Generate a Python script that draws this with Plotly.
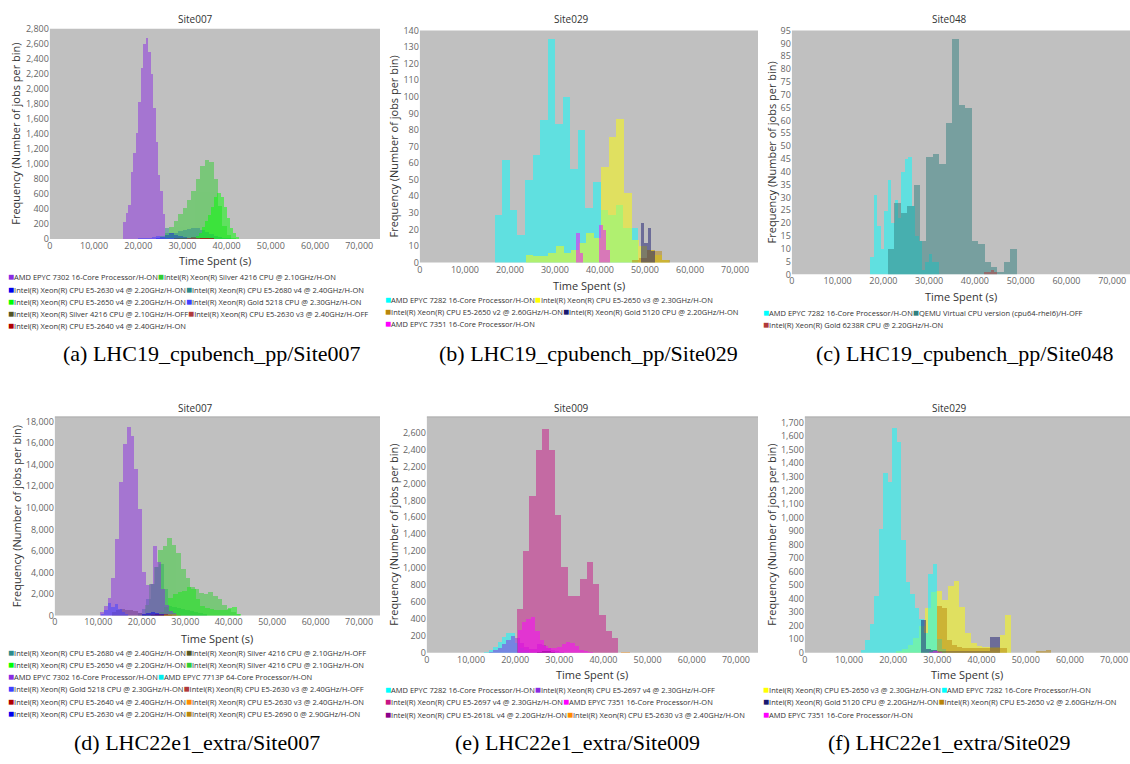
import plotly.graph_objects as go

W, H = 1130, 764

# ---------------- DATA ----------------
N_AMD7302 = "AMD EPYC 7302 16-Core Processor/H-ON"
N_AMD7282 = "AMD EPYC 7282 16-Core Processor/H-ON"
N_AMD7351 = "AMD EPYC 7351 16-Core Processor/H-ON"
N_AMD7713P = "AMD EPYC 7713P 64-Core Processor/H-ON"
N_S4216_ON = "Intel(R) Xeon(R) Silver 4216 CPU @ 2.10GHz/H-ON"
N_S4216_OFF = "Intel(R) Xeon(R) Silver 4216 CPU @ 2.10GHz/H-OFF"
N_2630V4 = "Intel(R) Xeon(R) CPU E5-2630 v4 @ 2.20GHz/H-ON"
N_2680V4 = "Intel(R) Xeon(R) CPU E5-2680 v4 @ 2.40GHz/H-ON"
N_2650V4 = "Intel(R) Xeon(R) CPU E5-2650 v4 @ 2.20GHz/H-ON"
N_G5218 = "Intel(R) Xeon(R) Gold 5218 CPU @ 2.30GHz/H-ON"
N_2630V3_OFF = "Intel(R) Xeon(R) CPU E5-2630 v3 @ 2.40GHz/H-OFF"
N_2630V3_ON = "Intel(R) Xeon(R) CPU E5-2630 v3 @ 2.40GHz/H-ON"
N_2640V4 = "Intel(R) Xeon(R) CPU E5-2640 v4 @ 2.40GHz/H-ON"
N_2650V3 = "Intel(R) Xeon(R) CPU E5-2650 v3 @ 2.30GHz/H-ON"
N_2650V2 = "Intel(R) Xeon(R) CPU E5-2650 v2 @ 2.60GHz/H-ON"
N_G5120 = "Intel(R) Xeon(R) Gold 5120 CPU @ 2.20GHz/H-ON"
N_QEMU = "QEMU Virtual CPU version (cpu64-rhel6)/H-OFF"
N_G6238R = "Intel(R) Xeon(R) Gold 6238R CPU @ 2.20GHz/H-ON"
N_2690 = "Intel(R) Xeon(R) CPU E5-2690 0 @ 2.90GHz/H-ON"
N_2697V4_OFF = "Intel(R) Xeon(R) CPU E5-2697 v4 @ 2.30GHz/H-OFF"
N_2697V4_ON = "Intel(R) Xeon(R) CPU E5-2697 v4 @ 2.30GHz/H-ON"
N_2618LV4 = "Intel(R) Xeon(R) CPU E5-2618L v4 @ 2.20GHz/H-ON"

# Panel (a): LHC19_cpubench_pp / Site007  (bin start, bin width, counts)
a_series = [N_AMD7302, N_S4216_ON, N_2630V4, N_2680V4, N_2650V4, N_G5218, N_S4216_OFF, N_2630V3_OFF, N_2640V4]
a_start = [16600, 26000, 24000, 25000, 33000, 20000, 28000, 30000, 32000]
a_width = [560, 1000, 1000, 1000, 700, 1000, 1000, 1000, 1000]
a_amd7302 = [230, 350, 460, 900, 1150, 1420, 1830, 2280, 2600, 2680, 2500, 2200, 1750, 1300, 860, 640, 340]
a_s4216_on = [80, 170, 250, 340, 420, 520, 650, 800, 980, 1050, 1030, 800, 450, 180, 60, 20]
a_2630v4 = [10, 30, 60, 80, 60, 40, 30, 20, 10, 5]
a_2680v4 = [40, 150, 70, 90, 110, 125, 135, 145, 150, 130, 100, 70, 45, 25, 12, 6, 3]
a_2650v4 = [40, 90, 160, 240, 330, 430, 560, 620, 560, 430, 280, 150, 80, 30]
a_g5218 = [5, 10, 20, 30, 40, 30, 20, 10, 5]
a_s4216_off = [5, 10, 15, 20, 25, 20, 15, 10, 5]
a_2630v3_off = [3, 5, 8, 10, 8, 5, 3]
a_2640v4 = [2, 4, 6, 8, 6, 4, 2]
a_counts = [a_amd7302, a_s4216_on, a_2630v4, a_2680v4, a_2650v4, a_g5218, a_s4216_off, a_2630v3_off, a_2640v4]

# Panel (b): LHC19_cpubench_pp / Site029
b_series = [N_AMD7282, N_2650V3, N_2650V2, N_G5120, N_AMD7351]
b_start = [16600, 23480, 47000, 49000, 34600]
b_width = [1680, 1680, 1700, 800, 850]
b_amd7282 = [29, 62, 32, 17, 50, 65, 86, 135, 84, 100, 57, 80, 33, 49, 32, 29, 35, 21, 21]
b_2650v3 = [5, 4, 4, 6, 10, 6, 8, 12, 18, 15, 58, 76, 87, 42, 14, 10, 8, 5, 2]
b_2650v2 = [2, 3, 8, 7, 2]
b_g5120 = [24, 12, 21, 7]
b_amd7351 = [18, 6, 0, 0, 0, 0, 23, 20, 8]
b_counts = [b_amd7282, b_2650v3, b_2650v2, b_g5120, b_amd7351]

# Panel (c): LHC19_cpubench_pp / Site048
c_series = [N_AMD7282, N_QEMU, N_G6238R]
c_start = [17155, 20935, 42000]
c_width = [750, 1410, 700]
c_amd7282 = [7, 31, 19, 10, 25, 37, 20, 29, 22, 40, 45, 46, 27, 15, 13, 2, 5, 8, 5, 5]
c_qemu = [10, 28, 24, 27, 35, 13, 46, 47, 43, 59, 92, 66, 65, 13, 12, 5, 3, 1, 5, 10]
c_g6238r = [1, 1, 2, 1]
c_counts = [c_amd7282, c_qemu, c_g6238r]

# Panel (d): LHC22e1_extra / Site007
d_series = [N_2680V4, N_S4216_OFF, N_2650V4, N_S4216_ON, N_AMD7302, N_AMD7713P,
            N_G5218, N_2630V3_OFF, N_2640V4, N_2630V3_ON, N_2630V4, N_2690]
d_start = [19000, 13000, 24000, 20600, 10330, 20000, 10500, 20000, 22000, 24000, 20000, 25000]
d_width = [1000, 1000, 1050, 1050, 880, 1000, 800, 1000, 1000, 1000, 1000, 1000]
d_2680v4 = [200, 600, 1500, 2900, 4500, 4800, 2500, 900, 800, 700, 600, 500, 400, 300, 200, 100]
d_s4216_off = [300, 550, 600, 500, 550, 400, 200, 100]
d_2650v4 = [300, 800, 1600, 2000, 2200, 2300, 2700, 2500, 1500, 900, 700, 600, 500, 500, 500, 700, 800, 100]
d_s4216_on = [1000, 2900, 4500, 6100, 6500, 7200, 6600, 5800, 4300, 3500, 2700, 2500, 2100, 2000, 2200, 1800, 1500, 1000, 600, 300, 100]
d_amd7302 = [300, 850, 1600, 3500, 7160, 12440, 15930, 17540, 16690, 13600, 9900, 4040, 2800, 2900, 6500, 5000, 2500, 1000, 400, 200]
d_amd7713p = [20, 40, 30, 10]
d_g5218 = [100, 500, 1200, 800, 1100, 600, 300, 100]
d_2630v3_off = [50, 100, 150, 100, 50]
d_2640v4 = [50, 80, 100, 80, 50]
d_2630v3_on = [30, 50, 40, 20]
d_2630v4 = [100, 200, 300, 200, 100]
d_2690 = [40, 80, 60, 30]
d_counts = [d_2680v4, d_s4216_off, d_2650v4, d_s4216_on, d_amd7302, d_amd7713p,
            d_g5218, d_2630v3_off, d_2640v4, d_2630v3_on, d_2630v4, d_2690]

# Panel (e): LHC22e1_extra / Site009
e_series = [N_AMD7282, N_2697V4_OFF, N_2697V4_ON, N_AMD7351, N_2618LV4, N_2630V3_ON]
e_start = [13000, 14000, 20320, 20500, 25000, 44000]
e_width = [1000, 1000, 1440, 1000, 1000, 1000]
e_amd7282 = [10, 30, 70, 130, 190, 230, 240, 120, 60, 30]
e_2697v4_off = [10, 30, 60, 100, 150, 200, 180, 120, 70, 50, 50, 100, 90, 60, 30, 15, 5]
e_2697v4_on = [522, 1207, 1857, 2391, 2650, 2391, 1633, 1014, 669, 677, 870, 1072, 812, 453, 263, 174]
e_amd7351 = [270, 370, 400, 420, 260, 150, 80, 60, 60, 70, 100, 130, 120, 80, 40, 20, 10]
e_2618lv4 = [10, 20, 15, 5]
e_2630v3_on = [5, 3]
e_counts = [e_amd7282, e_2697v4_off, e_2697v4_on, e_amd7351, e_2618lv4, e_2630v3_on]

# Panel (f): LHC22e1_extra / Site029
f_series = [N_2650V3, N_AMD7282, N_G5120, N_2650V2, N_AMD7351]
f_start = [20630, 12645, 26200, 29960, 28000]
f_width = [1300, 1016, 1200, 1120, 1000]
f_2650v3 = [10, 30, 60, 110, 200, 330, 450, 460, 392, 496, 528, 340, 145, 73, 48, 44, 44, 44, 131, 278]
f_amd7282 = [24, 97, 211, 424, 915, 1327, 1264, 1659, 1555, 835, 521, 436, 334, 250, 150, 586, 660, 100, 30]
f_g5120 = [240, 30, 20, 15, 15, 10, 10, 10, 10, 10, 10, 10, 10, 116, 116]
f_2650v2 = [350, 330, 97, 60, 45, 40, 40, 40, 40, 40, 40, 40, 40, 35, 0, 0, 0, 0, 0, 0, 10, 15, 20]
f_amd7351 = [5, 8, 5]
f_counts = [f_2650v3, f_amd7282, f_g5120, f_2650v2, f_amd7351]

# ---------------- STYLE ----------------
COLORS = {
    N_AMD7302: "#8a2be2", N_AMD7282: "#00ffff", N_AMD7351: "#ff00ff", N_AMD7713P: "#00eeee",
    N_S4216_ON: "#32cd32", N_S4216_OFF: "#555522", N_2630V4: "#0000ee", N_2680V4: "#2e8b8b",
    N_2650V4: "#00ff00", N_G5218: "#4040ff", N_2630V3_OFF: "#b03a3a", N_2630V3_ON: "#ff8c00",
    N_2640V4: "#b00000", N_2650V3: "#ffff00", N_2650V2: "#b8860b", N_G5120: "#191970",
    N_QEMU: "#2f7f7f", N_G6238R: "#b03a3a", N_2690: "#b8860b", N_2697V4_OFF: "#8a2be2",
    N_2697V4_ON: "#c71585", N_2618LV4: "#8b008b",
}

PANELS = [
    dict(key="a", L=47, R=378, T=22, B=236, xmax=74700, ymax=2800, dy=200, title="Site007", tx=193, tty=12,
         ytx=13, xty=258, leg=(4, 274), cap="(a) LHC19_cpubench_pp/Site007", capx=210, capy=352),
    dict(key="b", L=418, R=757, T=24, B=260, xmax=75100, ymax=140, dy=10, title="Site029", tx=570, tty=12,
         ytx=392, xty=283, leg=(382, 297), cap="(b) LHC19_cpubench_pp/Site029", capx=587, capy=352),
    dict(key="c", L=791, R=1130, T=24, B=272, xmax=73900, ymax=95, dy=5, title="Site048", tx=949, tty=12,
         ytx=771, xty=295, leg=(761, 310), cap="(c) LHC19_cpubench_pp/Site048", capx=965, capy=352),
    dict(key="d", L=52, R=378, T=417, B=619, xmax=74800, ymax=18450, dy=2000, title="Site007", tx=193, tty=408,
         ytx=13, xty=642, leg=(4, 656), cap="(d) LHC22e1_extra/Site007", capx=195, capy=748),
    dict(key="e", L=425, R=757, T=417, B=657, xmax=75000, ymax=2786, dy=200, title="Site009", tx=570, tty=408,
         ytx=392, xty=679, leg=(382, 694), cap="(e) LHC22e1_extra/Site009", capx=576, capy=748),
    dict(key="f", L=804, R=1130, T=417, B=657, xmax=73600, ymax=1743, dy=100, title="Site029", tx=949, tty=408,
         ytx=771, xty=679, leg=(761, 694), cap="(f) LHC22e1_extra/Site029", capx=949, capy=748),
]
DATA = {
    "a": (a_series, a_start, a_width, a_counts),
    "b": (b_series, b_start, b_width, b_counts),
    "c": (c_series, c_start, c_width, c_counts),
    "d": (d_series, d_start, d_width, d_counts),
    "e": (e_series, e_start, e_width, e_counts),
    "f": (f_series, f_start, f_width, f_counts),
}

FONT = "Open Sans"
fig = go.Figure()
annotations = []


def px(x):
    return x / W


def py(y):
    return 1 - y / H


for i, p in enumerate(PANELS):
    n = i + 1
    xa = "x" if n == 1 else f"x{n}"
    ya = "y" if n == 1 else f"y{n}"
    names, starts, widths, counts = DATA[p["key"]]
    for name, s, w, c in zip(names, starts, widths, counts):
        centers = [s + (k + 0.5) * w for k in range(len(c))]
        fig.add_trace(go.Bar(
            x=centers, y=c, width=w, name=name, xaxis=xa, yaxis=ya,
            marker=dict(color=COLORS[name], line=dict(width=0)),
            opacity=0.5, showlegend=False,
        ))
    axis_common = dict(showgrid=False, zeroline=False, showline=False, ticks="",
                       tickfont=dict(family=FONT, size=9, color="#666666"))
    fig.update_layout(**{
        ("xaxis" if n == 1 else f"xaxis{n}"): dict(
            domain=[px(p["L"]), px(p["R"])], range=[0, p["xmax"]], anchor=ya,
            tick0=0, dtick=10000, tickformat=",d", **axis_common),
        ("yaxis" if n == 1 else f"yaxis{n}"): dict(
            domain=[py(p["B"]), py(p["T"])], range=[0, p["ymax"]], anchor=xa,
            tick0=0, dtick=p["dy"], tickformat=",d", **axis_common),
    })
    fig.add_shape(type="rect", xref="paper", yref="paper",
                  x0=px(p["L"]), x1=px(p["R"]), y0=py(p["B"]), y1=py(p["T"]),
                  fillcolor="#c0c0c0", line=dict(width=0), layer="below")
    if p["key"] in "def":
        fig.add_shape(type="line", xref="paper", yref="paper",
                      x0=px(p["L"]), x1=px(p["R"]), y0=py(p["T"]), y1=py(p["T"]),
                      line=dict(color="#a8a8a8", width=1), layer="below")
    annotations.append(dict(text=p["title"], x=px(p["tx"]), y=py(p["tty"]), xref="paper", yref="paper",
                            showarrow=False, xanchor="center", yanchor="middle",
                            font=dict(family=FONT, size=10, color="#333333")))
    annotations.append(dict(text="Frequency (Number of jobs per bin)", x=px(p["ytx"]),
                            y=py((p["T"] + p["B"]) / 2), xref="paper", yref="paper",
                            showarrow=False, textangle=-90, xanchor="center", yanchor="middle",
                            font=dict(family=FONT, size=11, color="#333333")))
    annotations.append(dict(text="Time Spent (s)", x=px((p["L"] + p["R"]) / 2), y=py(p["xty"]),
                            xref="paper", yref="paper", showarrow=False,
                            xanchor="center", yanchor="middle",
                            font=dict(family=FONT, size=11, color="#333333")))
    lx, ly = p["leg"]
    for r in range(0, len(names), 2):
        row = names[r:r + 2]
        txt = "".join(f'<span style="color:{COLORS[nm]};font-size:10px">■</span>{nm}' for nm in row)
        annotations.append(dict(text=txt, x=px(lx), y=py(ly + (r // 2) * 12.4), xref="paper", yref="paper",
                                showarrow=False, xanchor="left", yanchor="middle", borderpad=0,
                                font=dict(family=FONT, size=7.5, color="#333333")))
    annotations.append(dict(text=p["cap"], x=px(p["capx"]), y=py(p["capy"]), xref="paper", yref="paper",
                            showarrow=False, xanchor="center", yanchor="middle",
                            font=dict(family="Liberation Serif", size=22, color="#000000")))

fig.update_layout(width=W, height=H, margin=dict(l=0, r=0, t=0, b=0),
                  paper_bgcolor="white", plot_bgcolor="rgba(0,0,0,0)",
                  barmode="overlay", bargap=0, annotations=annotations, showlegend=False)
fig.write_html("out.html", config={"displayModeBar": False},
               post_script="document.body.style.margin='0';")
